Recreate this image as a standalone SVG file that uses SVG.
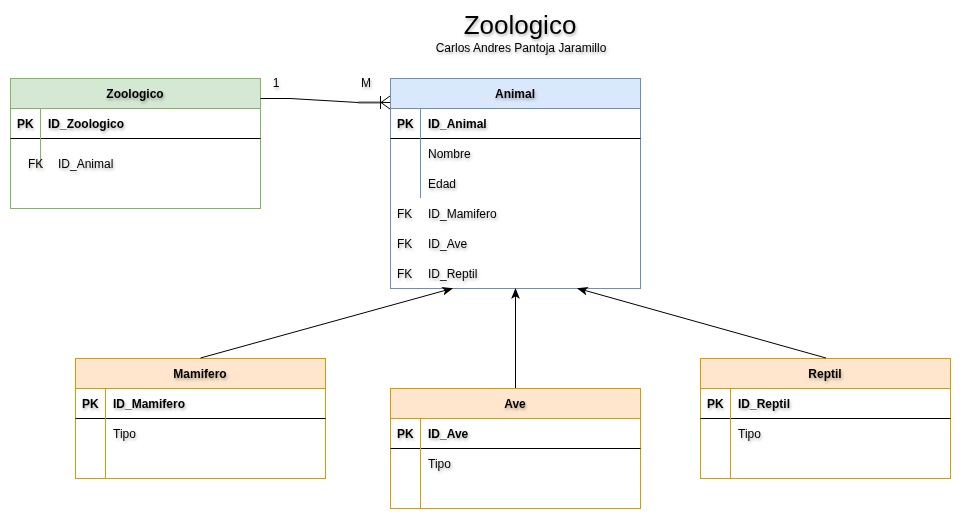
<svg xmlns="http://www.w3.org/2000/svg" width="967" height="525" viewBox="0 0 967 525">
<defs>
<filter id="ts" x="-10%" y="-30%" width="130%" height="180%">
<feDropShadow dx="1" dy="2" stdDeviation="1.5" flood-color="#000" flood-opacity="0.3"/>
</filter>
<marker id="arr" viewBox="0 0 10 10" refX="9" refY="5" markerWidth="11" markerHeight="11" markerUnits="userSpaceOnUse" orient="auto">
<path d="M0,1 L10,5 L0,9 L2.5,5 Z" fill="#000"/>
</marker>
</defs>
<style>
text{font-family:"Liberation Sans",Arial,sans-serif;font-size:12px;fill:#000;filter:url(#ts)}
.b{font-weight:bold}
.h{text-anchor:middle;font-weight:bold}
.g{fill:#d5e8d4;stroke:#82b366}
.gb{fill:#fff;stroke:#82b366}
.bl{fill:#dae8fc;stroke:#6c8ebf}
.bb{fill:#fff;stroke:#6c8ebf}
.o{fill:#ffe6cc;stroke:#d79b00}
.ob{fill:#fff;stroke:#d79b00}
.sep{stroke:#000;stroke-width:1}
.edge{fill:none;stroke:#000;stroke-width:1}
</style>
<rect width="967" height="525" fill="#fff"/>
<g id="title">
<text x="520" y="34" style="font-size:26px;text-anchor:middle">Zoologico</text>
<text x="521" y="52" style="font-size:12px;text-anchor:middle">Carlos Andres Pantoja Jaramillo</text>
</g>
<g id="zoologico">
<rect class="gb" x="10.5" y="78.5" width="250" height="130"/>
<rect class="g" x="10.5" y="78.5" width="250" height="30"/>
<line class="sep" x1="10.5" y1="138.5" x2="260.5" y2="138.5"/>
<line x1="40.5" y1="108.5" x2="40.5" y2="168" stroke="#82b366"/>
<text class="h" x="135" y="98">Zoologico</text>
<text class="b" x="17" y="128">PK</text>
<text class="b" x="48" y="128">ID_Zoologico</text>
<text x="28" y="168">FK</text>
<text x="58" y="168">ID_Animal</text>
</g>
<g id="animal">
<rect class="bb" x="390.5" y="78.5" width="250" height="210"/>
<rect class="bl" x="390.5" y="78.5" width="250" height="30"/>
<line class="sep" x1="390.5" y1="138.5" x2="640.5" y2="138.5"/>
<line x1="420.5" y1="108.5" x2="420.5" y2="198" stroke="#6c8ebf"/>
<text class="h" x="515" y="98">Animal</text>
<text class="b" x="397" y="128">PK</text>
<text class="b" x="428" y="128">ID_Animal</text>
<text x="428" y="158">Nombre</text>
<text x="428" y="188">Edad</text>
<text x="397" y="218">FK</text>
<text x="428" y="218">ID_Mamifero</text>
<text x="397" y="248">FK</text>
<text x="428" y="248">ID_Ave</text>
<text x="397" y="278">FK</text>
<text x="428" y="278">ID_Reptil</text>
</g>
<g id="mamifero">
<rect class="ob" x="75.5" y="358.5" width="250" height="120"/>
<rect class="o" x="75.5" y="358.5" width="250" height="30"/>
<line class="sep" x1="75.5" y1="418.5" x2="325.5" y2="418.5"/>
<line x1="105.5" y1="388.5" x2="105.5" y2="478.5" stroke="#d79b00"/>
<text class="h" x="200" y="378">Mamifero</text>
<text class="b" x="82" y="408">PK</text>
<text class="b" x="113" y="408">ID_Mamifero</text>
<text x="113" y="438">Tipo</text>
</g>
<g id="ave">
<rect class="ob" x="390.5" y="388.5" width="250" height="120"/>
<rect class="o" x="390.5" y="388.5" width="250" height="30"/>
<line class="sep" x1="390.5" y1="448.5" x2="640.5" y2="448.5"/>
<line x1="420.5" y1="418.5" x2="420.5" y2="508.5" stroke="#d79b00"/>
<text class="h" x="515" y="408">Ave</text>
<text class="b" x="397" y="438">PK</text>
<text class="b" x="428" y="438">ID_Ave</text>
<text x="428" y="468">Tipo</text>
</g>
<g id="reptil">
<rect class="ob" x="700.5" y="358.5" width="250" height="120"/>
<rect class="o" x="700.5" y="358.5" width="250" height="30"/>
<line class="sep" x1="700.5" y1="418.5" x2="950.5" y2="418.5"/>
<line x1="730.5" y1="388.5" x2="730.5" y2="478.5" stroke="#d79b00"/>
<text class="h" x="825" y="378">Reptil</text>
<text class="b" x="707" y="408">PK</text>
<text class="b" x="738" y="408">ID_Reptil</text>
<text x="738" y="438">Tipo</text>
</g>
<g id="connectors">
<polyline class="edge" points="260.5,98.5 290,98.5 358,102.5 390,102.5"/>
<line x1="358" y1="102.5" x2="380" y2="102.5" stroke="#555" stroke-width="2"/>
<line class="edge" x1="380.5" y1="96" x2="380.5" y2="109"/>
<polyline class="edge" points="390,96 381,102.5 390,109"/>
<text x="276" y="87" style="text-anchor:middle;font-size:12px">1</text>
<text x="366" y="87" style="text-anchor:middle;font-size:12px">M</text>
<line class="edge" x1="200.5" y1="358" x2="452" y2="288.5" marker-end="url(#arr)"/>
<line class="edge" x1="515.5" y1="388" x2="515.5" y2="289" marker-end="url(#arr)"/>
<line class="edge" x1="826" y1="358" x2="578" y2="288.5" marker-end="url(#arr)"/>
</g>
</svg>
